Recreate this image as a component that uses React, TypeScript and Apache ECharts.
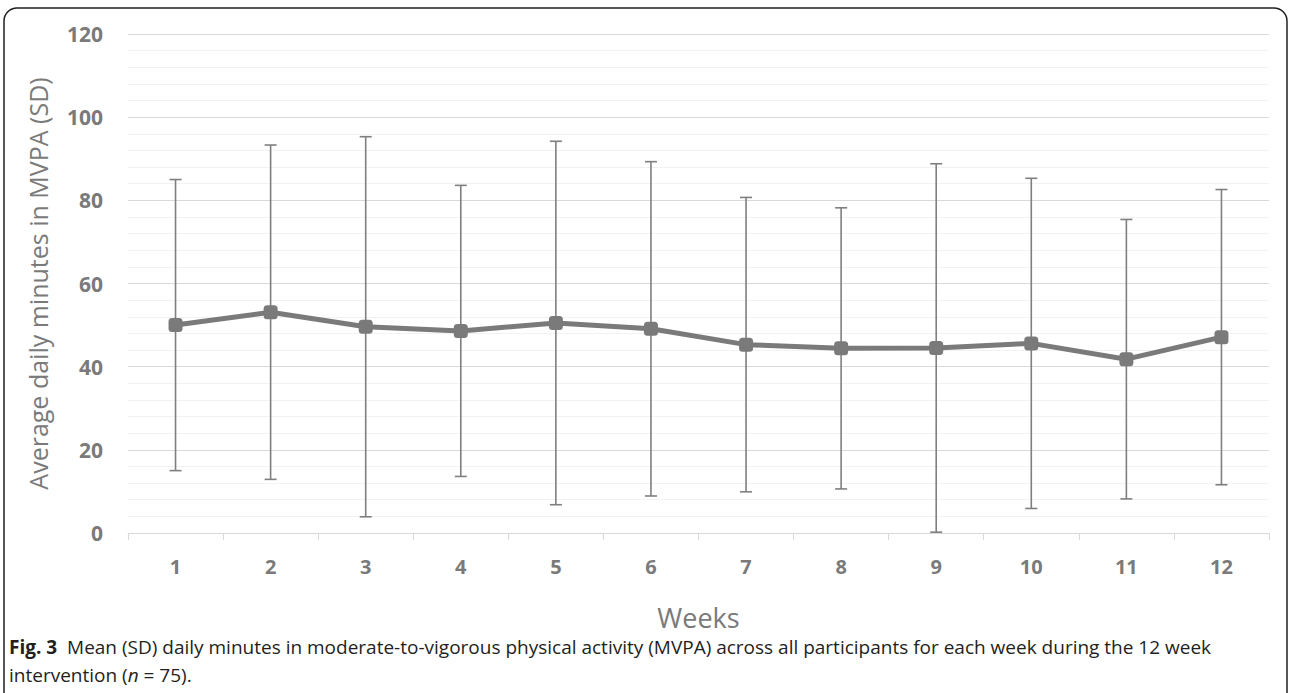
import React, { useEffect, useRef } from "react";
import * as echarts from "echarts";

const weeks = ["1", "2", "3", "4", "5", "6", "7", "8", "9", "10", "11", "12"];
const meanMinutes = [50.0, 53.1, 49.6, 48.6, 50.5, 49.1, 45.3, 44.4, 44.5, 45.6, 41.8, 47.1];
const sdMinutes = [35.0, 40.2, 45.7, 35.0, 43.7, 40.2, 35.4, 33.8, 44.3, 39.7, 33.6, 35.5];
const yTicks = { min: 0, max: 120, interval: 20 };

const captionLine1 =
  "Mean (SD) daily minutes in moderate-to-vigorous physical activity (MVPA) across all participants for each week during the 12 week";

export default function App() {
  const ref = useRef<HTMLDivElement>(null);

  useEffect(() => {
    if (!ref.current) return;
    const chart = echarts.init(ref.current, null, { renderer: "svg" });
    const gray = "#7a7a7a";
    const font = "'Open Sans', 'Noto Sans', sans-serif";
    const errData = weeks.map((_, i) => [i, meanMinutes[i], sdMinutes[i]]);

    chart.setOption({
      animation: false,
      backgroundColor: "#ffffff",
      grid: { left: 128, right: 21, top: 34, bottom: 160, containLabel: false },
      xAxis: {
        type: "category",
        data: weeks,
        boundaryGap: true,
        axisLine: { show: true, lineStyle: { color: "#d9d9d9", width: 1 } },
        axisTick: { show: true, interval: 0, length: 7, lineStyle: { color: "#d9d9d9" } },
        axisLabel: {
          interval: 0,
          margin: 23,
          color: gray,
          fontFamily: font,
          fontWeight: "bold",
          fontSize: 20,
        },
        name: "Weeks",
        nameLocation: "middle",
        nameGap: 71,
        nameTextStyle: { color: gray, fontFamily: font, fontSize: 27 },
      },
      yAxis: {
        type: "value",
        min: yTicks.min,
        max: yTicks.max,
        interval: yTicks.interval,
        axisLine: { show: false },
        axisTick: { show: false },
        minorTick: { show: false, splitNumber: 5 },
        splitLine: { show: true, lineStyle: { color: "#d9d9d9", width: 1 } },
        minorSplitLine: { show: true, lineStyle: { color: "#f2f2f2", width: 1 } },
        axisLabel: {
          margin: 25,
          color: gray,
          fontFamily: font,
          fontWeight: "bold",
          fontSize: 21,
        },
        name: "Average daily minutes in MVPA (SD)",
        nameLocation: "middle",
        nameGap: 78,
        nameTextStyle: { color: gray, fontFamily: font, fontSize: 25 },
      },
      series: [
        {
          type: "custom",
          z: 1,
          data: errData,
          renderItem: (params: any, api: any) => {
            const x = api.value(0);
            const m = api.value(1);
            const s = api.value(2);
            const hi = api.coord([x, m + s]);
            const lo = api.coord([x, m - s]);
            const cap = 6;
            const st = { stroke: "#7f7f7f", lineWidth: 1.6 };
            return {
              type: "group",
              children: [
                { type: "line", shape: { x1: hi[0], y1: hi[1], x2: lo[0], y2: lo[1] }, style: st },
                { type: "line", shape: { x1: hi[0] - cap, y1: hi[1], x2: hi[0] + cap, y2: hi[1] }, style: st },
                { type: "line", shape: { x1: lo[0] - cap, y1: lo[1], x2: lo[0] + cap, y2: lo[1] }, style: st },
              ],
            };
          },
        },
        {
          type: "line",
          z: 3,
          data: meanMinutes,
          symbol: "roundRect",
          symbolSize: 14,
          lineStyle: { color: gray, width: 5 },
          itemStyle: { color: gray },
        },
      ],
      graphic: [
        {
          type: "rect",
          shape: { x: 4, y: 8, width: 1283, height: 700, r: 13 },
          style: { fill: "none", stroke: "#231f20", lineWidth: 1.5 },
          silent: true,
          z: 100,
        },
        {
          type: "text",
          x: 9,
          y: 633,
          style: {
            text: "{b|Fig. 3}  " + captionLine1 + "\nintervention ({i|n} = 75).",
            fill: "#231f20",
            fontFamily: font,
            fontSize: 19,
            lineHeight: 28,
            rich: {
              b: { fontFamily: font, fontSize: 19, fontWeight: "bold", fill: "#231f20", lineHeight: 28 },
              i: { fontFamily: font, fontSize: 19, fontStyle: "italic", fill: "#231f20", lineHeight: 28 },
            },
          },
          z: 100,
        },
      ],
    });
    return () => chart.dispose();
  }, []);

  return (
    <div
      ref={ref}
      style={{ position: "fixed", left: 0, top: 0, width: 1290, height: 693, background: "#fff" }}
    />
  );
}
